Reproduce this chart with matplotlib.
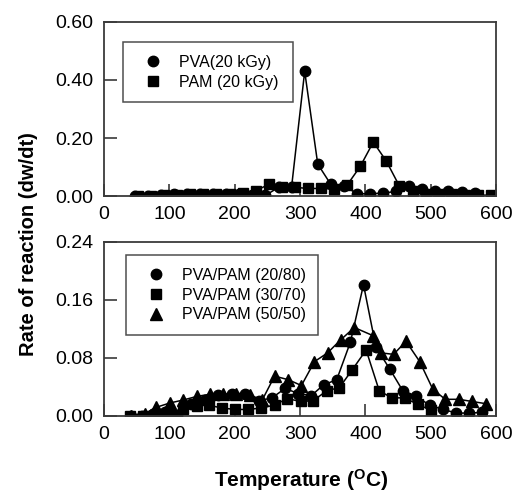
"""Rate of reaction vs temperature, two stacked panels."""

import matplotlib
matplotlib.use("Agg")
import matplotlib.pyplot as plt

plt.rcParams.update({
    "font.family": ["Liberation Sans", "DejaVu Sans"],
    "mathtext.fontset": "custom",
    "mathtext.rm": "Liberation Sans",
    "mathtext.bf": "Liberation Sans:bold",
})

# top panel: PVA and PAM homopolymers
pva_t = [47, 67, 87, 107, 127, 147, 167, 187, 207, 227, 247, 267, 287, 307,
         327, 347, 367, 387, 407, 427, 447, 467, 487, 507, 527, 547, 567]
pva_r = [0.000, 0.000, 0.002, 0.006, 0.006, 0.008, 0.008, 0.008, 0.008, 0.005,
         0.002, 0.030, 0.032, 0.430, 0.110, 0.040, 0.036, 0.008, 0.008, 0.010,
         0.016, 0.033, 0.025, 0.018, 0.016, 0.015, 0.010]
pam_t = [52, 72, 92, 112, 132, 152, 172, 192, 212, 232, 252, 272, 292, 312,
         332, 352, 372, 392, 412, 432, 452, 472, 492, 512, 532, 552, 572, 592]
pam_r = [0.000, 0.000, 0.003, 0.005, 0.006, 0.007, 0.008, 0.008, 0.010, 0.018,
         0.040, 0.031, 0.030, 0.026, 0.026, 0.024, 0.038, 0.102, 0.186, 0.120,
         0.034, 0.016, 0.008, 0.008, 0.006, 0.005, 0.003, 0.003]

# bottom panel: blends
b2080_t = [42, 58, 75, 93, 112, 133, 154, 175, 196, 216, 237, 257, 277, 297,
           317, 336, 356, 377, 397, 416, 437, 457, 478, 498, 519, 539, 559, 579]
b2080_r = [0.000, 0.000, 0.003, 0.006, 0.001, 0.016, 0.022, 0.029, 0.031, 0.031,
           0.021, 0.025, 0.038, 0.031, 0.028, 0.043, 0.050, 0.102, 0.181, 0.095,
           0.065, 0.035, 0.027, 0.015, 0.009, 0.004, 0.004, 0.005]
b3070_t = [40, 60, 80, 100, 121, 142, 160, 180, 201, 221, 240, 261, 280, 301,
           320, 341, 360, 380, 401, 421, 440, 460, 480, 500]
b3070_r = [0.000, 0.000, 0.003, 0.006, 0.009, 0.014, 0.015, 0.011, 0.009, 0.009,
           0.011, 0.015, 0.024, 0.020, 0.021, 0.035, 0.039, 0.064, 0.091, 0.035,
           0.025, 0.025, 0.016, 0.008]
b5050_t = [42, 62, 80, 101, 121, 142, 162, 182, 202, 223, 242, 261, 282, 302,
           322, 342, 362, 383, 411, 424, 443, 462, 483, 503, 522, 543, 563, 584]
b5050_r = [0.000, 0.003, 0.012, 0.018, 0.022, 0.027, 0.030, 0.030, 0.030, 0.029,
           0.022, 0.055, 0.050, 0.042, 0.075, 0.087, 0.105, 0.122, 0.111, 0.087,
           0.085, 0.103, 0.075, 0.037, 0.023, 0.023, 0.020, 0.017]

x_ticks = [0, 100, 200, 300, 400, 500, 600]
top_yticks = [0.0, 0.2, 0.4, 0.6]
bot_yticks = [0.0, 0.08, 0.16, 0.24]

FRAME = "#3a3a3a"


def style_axes(ax, yticks):
    ax.set_xlim(0, 600)
    ax.set_ylim(yticks[0], yticks[-1])
    ax.set_xticks(x_ticks)
    ax.set_yticks(yticks)
    ax.set_yticklabels([f"{v:.2f}" for v in yticks])
    ax.tick_params(direction="in", length=9, width=1.2, color=FRAME,
                   labelsize=14, top=False, right=False)
    ax.tick_params(axis="x", pad=7)
    ax.tick_params(axis="y", pad=8)
    for s in ax.spines.values():
        s.set_color(FRAME)
        s.set_linewidth(1.3)


def add_legend(ax, anchor):
    leg = ax.legend(loc="upper left", bbox_to_anchor=anchor, mode="expand",
                    borderaxespad=0, frameon=True, fancybox=False,
                    fontsize=11.5, handlelength=2.2, handletextpad=0.5,
                    labelspacing=0.3, borderpad=0.8)
    leg.get_frame().set_edgecolor("#222222")
    leg.get_frame().set_linewidth(1.1)
    # markers only in the key, as in the original
    for h in leg.legend_handles:
        h.set_linestyle("None")


fig = plt.figure(figsize=(5.16, 4.92), dpi=100)
ax1 = fig.add_axes([0.2016, 0.6016, 0.760, 0.3537])
ax2 = fig.add_axes([0.2016, 0.1545, 0.760, 0.3537])

line = dict(color="black", linewidth=1.1, markeredgecolor="black",
            markerfacecolor="black")
ax1.plot(pva_t, pva_r, marker="o", markersize=7.5, label="PVA(20 kGy)", **line)
ax1.plot(pam_t, pam_r, marker="s", markersize=7, label="PAM (20 kGy)", **line)
style_axes(ax1, top_yticks)
add_legend(ax1, (0.048, 0.0, 0.434, 0.885))

ax2.plot(b2080_t, b2080_r, marker="o", markersize=7.5,
         label="PVA/PAM (20/80)", **line)
ax2.plot(b3070_t, b3070_r, marker="s", markersize=7,
         label="PVA/PAM (30/70)", **line)
ax2.plot(b5050_t, b5050_r, marker="^", markersize=8,
         label="PVA/PAM (50/50)", **line)
style_axes(ax2, bot_yticks)
add_legend(ax2, (0.056, 0.0, 0.49, 0.925))

fig.text(0.056, 0.503, "Rate of reaction (dw/dt)", rotation=90,
         fontsize=14.5, fontweight="bold", ha="center", va="center")
fig.text(0.583, 0.025, r"Temperature ($\mathbf{^{O}}$C)",
         fontsize=15, fontweight="bold", ha="center", va="center")

fig.savefig("out.png", dpi=100)
